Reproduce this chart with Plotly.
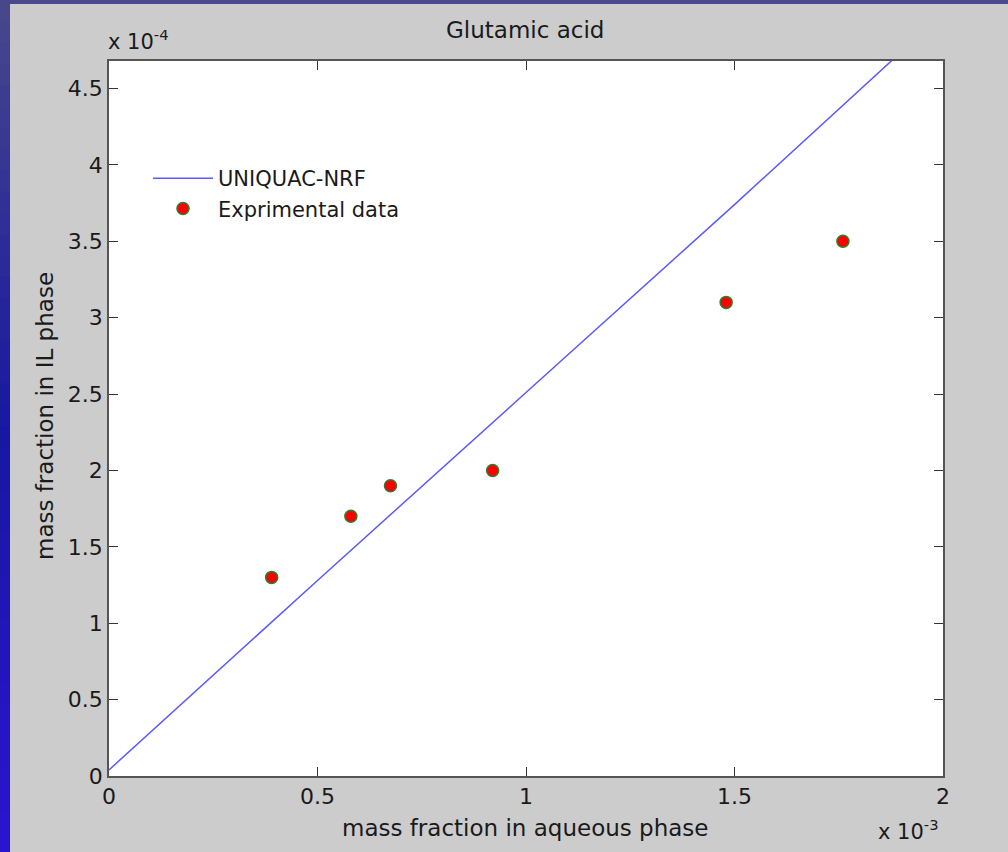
import plotly.graph_objects as go

# ---- data ----
exp_x = [0.39e-3, 0.58e-3, 0.675e-3, 0.92e-3, 1.48e-3, 1.76e-3]
exp_y = [1.3e-4, 1.7e-4, 1.9e-4, 2.0e-4, 3.1e-4, 3.5e-4]

model_x = [0.0, 0.5e-3, 1.0e-3, 1.5e-3, 1.9e-3]
model_y = [0.04e-4, 1.28e-4, 2.51e-4, 3.74e-4, 4.74e-4]

x_tickvals = [0, 0.5e-3, 1.0e-3, 1.5e-3, 2.0e-3]
x_ticktext = ["0", "0.5", "1", "1.5", "2"]
y_tickvals = [0, 0.5e-4, 1.0e-4, 1.5e-4, 2.0e-4, 2.5e-4, 3.0e-4, 3.5e-4, 4.0e-4, 4.5e-4]
y_ticktext = ["0", "0.5", "1", "1.5", "2", "2.5", "3", "3.5", "4", "4.5"]

title_text = "Glutamic acid"
x_label = "mass fraction in aqueous phase"
y_label = "mass fraction in IL phase"

# ---- layout geometry (pixels) ----
W, H = 1008, 852
L, R, T, B = 109, 943, 61, 776
FONT = "DejaVu Sans, Liberation Sans, Arial, sans-serif"
TXT = "#1a1a1a"


def px(p):
    return (p - L) / (R - L)


def py(p):
    return (B - p) / (B - T)


fig = go.Figure()
fig.add_trace(go.Scatter(
    x=model_x, y=model_y, mode="lines", name="UNIQUAC-NRF",
    line=dict(color="rgb(90,90,255)", width=1.5),
))
fig.add_trace(go.Scatter(
    x=exp_x, y=exp_y, mode="markers", name="Exprimental data",
    marker=dict(color="#ff0000", size=12, line=dict(color="#2e7d2e", width=1.5)),
))

axis_common = dict(
    showgrid=False, zeroline=False, showline=True, linecolor="#555555", linewidth=1.5,
    mirror="ticks", ticks="inside", ticklen=9, tickwidth=1.3, tickcolor="#333333",
    tickfont=dict(family=FONT, size=22, color=TXT),
)

shapes = []
# slide background: top strip
shapes.append(dict(type="rect", xref="paper", yref="paper",
                   x0=px(0), x1=px(W), y0=py(4), y1=py(0),
                   fillcolor="#49498b", line=dict(width=0), layer="above"))
# slide background: left strip with vertical gradient
c_top = (0x49, 0x49, 0x8b)
c_mid = (0x18, 0x18, 0xa2)
c_bot = (0x2c, 0x14, 0xd2)
n = 40
for i in range(n):
    y0p = i * H / n
    y1p = min(H, (i + 1) * H / n + 2)
    t = (i + 0.5) / n
    if t < 0.5:
        u = t / 0.5
        c = tuple(int(c_top[k] + (c_mid[k] - c_top[k]) * u) for k in range(3))
    else:
        u = (t - 0.5) / 0.5
        c = tuple(int(c_mid[k] + (c_bot[k] - c_mid[k]) * u) for k in range(3))
    shapes.append(dict(type="rect", xref="paper", yref="paper",
                       x0=px(0), x1=px(10), y0=py(y1p), y1=py(y0p),
                       fillcolor="rgb(%d,%d,%d)" % c, line=dict(width=0), layer="above"))

annotations = [
    dict(text=title_text, x=px(525), y=py(30), xref="paper", yref="paper",
         showarrow=False, font=dict(family=FONT, size=23, color=TXT),
         xanchor="center", yanchor="middle"),
    dict(text=x_label, x=px(525), y=py(828), xref="paper", yref="paper",
         showarrow=False, font=dict(family=FONT, size=23, color=TXT),
         xanchor="center", yanchor="middle"),
    dict(text=y_label, x=px(45), y=py(416), xref="paper", yref="paper",
         showarrow=False, textangle=-90, font=dict(family=FONT, size=23, color=TXT),
         xanchor="center", yanchor="middle"),
    dict(text="x 10<sup>-4</sup>", x=px(106), y=py(40), xref="paper", yref="paper",
         showarrow=False, font=dict(family=FONT, size=21, color=TXT),
         xanchor="left", yanchor="middle"),
    dict(text="x 10<sup>-3</sup>", x=px(876), y=py(830), xref="paper", yref="paper",
         showarrow=False, font=dict(family=FONT, size=21, color=TXT),
         xanchor="left", yanchor="middle"),
]

fig.update_layout(
    width=W, height=H,
    margin=dict(l=L, r=W - R, t=T, b=H - B, pad=0),
    paper_bgcolor="#cccccc", plot_bgcolor="#ffffff",
    xaxis=dict(range=[0, 2.0e-3], tickvals=x_tickvals, ticktext=x_ticktext, **axis_common),
    yaxis=dict(range=[0, 4.68e-4], tickvals=y_tickvals, ticktext=y_ticktext, **axis_common),
    showlegend=True,
    legend=dict(x=px(148), y=py(158), xanchor="left", yanchor="top",
                bgcolor="rgba(0,0,0,0)", borderwidth=0,
                font=dict(family=FONT, size=21, color=TXT),
                itemwidth=60, tracegroupgap=0),
    shapes=shapes,
    annotations=annotations,
)

fig.write_html("out.html", config={"displayModeBar": False},
               post_script="document.body.style.margin='0px';")
